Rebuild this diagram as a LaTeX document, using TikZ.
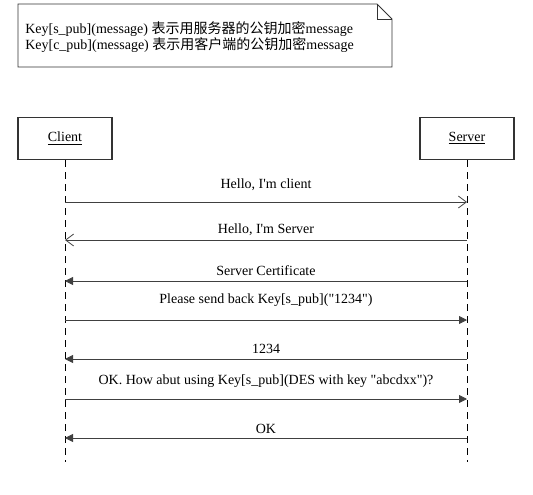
\documentclass[tikz,border=0pt]{standalone}
\usepackage{fontspec}
\setmainfont{Liberation Serif}[Ligatures=TeXOff]
\newfontfamily\cjk{Noto Sans CJK SC}
\usetikzlibrary{arrows.meta, positioning}

\tikzset{
  actor/.style={shape=rectangle, draw=black!80, line width=0.8pt, minimum width=70.5pt, minimum height=32pt},
  lifeline/.style={draw=black, dash pattern=on 5pt off 4pt},
  msgopen/.style={draw=black!75, line width=0.6pt, -{Straight Barb[length=6pt, width=9pt]}},
  msgfill/.style={draw=black!75, line width=0.6pt, -{Triangle[length=6pt, width=6pt]}},
  msglabel/.style={midway, above=#1, inner sep=1pt},
  msglabel/.default=7pt
}

\begin{document}
\begin{tikzpicture}[x=0.75pt, y=-0.75pt, font=\fontsize{10.5}{12.5}\selectfont]
    \useasboundingbox (0,0) rectangle (533,494);

    % note
    \draw[black!80, line width=0.7pt] (18,4) -- (377,4) -- (392,19) -- (392,67) -- (18,67) -- cycle;
    \draw[black!80, line width=0.7pt] (377,4) -- (377,19) -- (392,19);
    \node[anchor=west, align=left, inner sep=0pt] (note) at (25,37) {Key[s\_pub](message) {\cjk 表示用服务器的公钥加密}message\\[0pt]Key[c\_pub](message) {\cjk 表示用客户端的公钥加密}message};

    % actors
    \node[actor] (client) at (65,138.5) {\underline{Client}};
    \node[actor] (server) at (467,138.5) {\underline{Server}};
    \coordinate (clientend) at (65,462);
    \coordinate (serverend) at (467,462);
    \draw[lifeline] (client.south) -- (clientend);
    \draw[lifeline] (server.south) -- (serverend);

    % messages
    \foreach \n/\y in {1/202, 2/240, 3/281, 4/320, 5/359, 6/399, 7/438} {
      \coordinate (c\n) at (65,\y);
      \coordinate (s\n) at (467,\y);
    }
    \draw[msgopen] (c1) -- node[msglabel] {Hello, I'm client} (s1);
    \draw[msgopen] (s2) -- node[msglabel=2pt] {Hello, I'm Server} (c2);
    \draw[msgfill] (s3) -- node[msglabel=2.5pt] {Server Certificate} (c3);
    \draw[msgfill] (c4) -- node[msglabel=8.5pt] {Please send back Key[s\_pub]("1234")} (s4);
    \draw[msgfill] (s5) -- node[msglabel=2.5pt] {1234} (c5);
    \draw[msgfill] (c6) -- node[msglabel] {OK. How abut using Key[s\_pub](DES with key "abcdxx")?} (s6);
    \draw[msgfill] (s7) -- node[msglabel=2pt] {OK} (c7);
\end{tikzpicture}
\end{document}
